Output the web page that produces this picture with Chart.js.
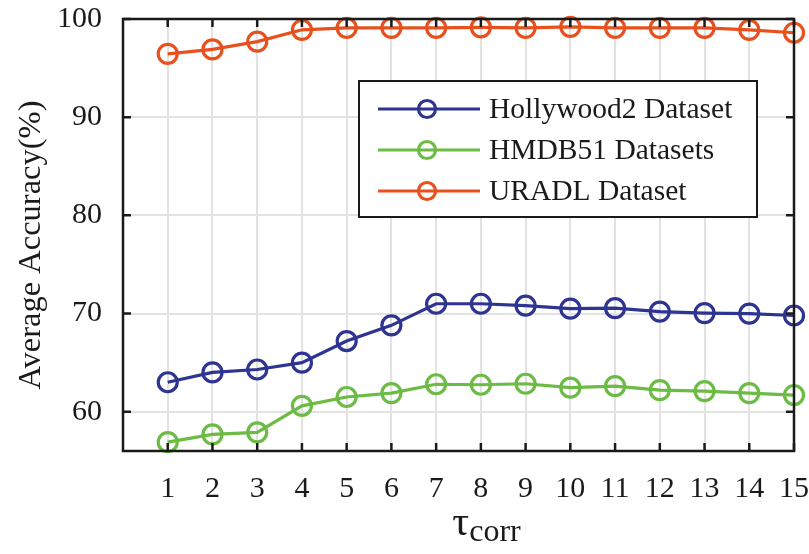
<!DOCTYPE html>
<html>
<head>
<meta charset="utf-8">
<script src="https://cdn.jsdelivr.net/npm/chart.js@4"></script>
<style>
  html, body { margin: 0; padding: 0; background: #ffffff; }
  #wrap { width: 809px; height: 554px; }
</style>
</head>
<body>
<div id="wrap"><canvas id="chart" width="809" height="554"></canvas></div>
<script>
// tau_corr values on the x axis
const tauValues = [1, 2, 3, 4, 5, 6, 7, 8, 9, 10, 11, 12, 13, 14, 15];

// average accuracy (%) per dataset
const hollywood2 = [63.0, 64.0, 64.3, 65.0, 67.2, 68.8, 71.0, 71.0, 70.8, 70.5, 70.55, 70.2, 70.05, 70.0, 69.8];
const hmdb51     = [56.9, 57.7, 57.9, 60.6, 61.5, 61.9, 62.8, 62.75, 62.85, 62.45, 62.6, 62.2, 62.1, 61.9, 61.7];
const uradl      = [96.45, 96.9, 97.7, 98.9, 99.1, 99.1, 99.1, 99.15, 99.1, 99.2, 99.1, 99.1, 99.1, 98.9, 98.6];

const seriesLabels = ['Hollywood2 Dataset', 'HMDB51 Datasets', 'URADL Dataset'];
const seriesColors = ['#2e3492', '#6cbb45', '#e8501e'];

const xTicks = [1, 2, 3, 4, 5, 6, 7, 8, 9, 10, 11, 12, 13, 14, 15];
const yTicks = [60, 70, 80, 90, 100];

const yTitle = 'Average Accuracy(%)';
const xTitleMain = 'τ';
const xTitleSub = 'corr';

const SERIF = '"Liberation Serif", "Times New Roman", serif';

// plot frame inside the 809x554 canvas
const FRAME = { left: 123, top: 19, right: 794, bottom: 451 };

function toPoints(values) {
  return values.map((v, i) => ({ x: tauValues[i], y: v }));
}

const seriesValues = [hollywood2, hmdb51, uradl];

const datasets = seriesValues.map((vals, i) => ({
  label: seriesLabels[i],
  data: toPoints(vals),
  borderColor: seriesColors[i],
  backgroundColor: 'rgba(0,0,0,0)',
  pointBorderColor: seriesColors[i],
  pointBackgroundColor: 'rgba(0,0,0,0)',
  borderWidth: 3.2,
  pointRadius: 9.5,
  pointBorderWidth: 3.2,
  pointHoverRadius: 9.5,
  tension: 0,
  clip: false
}));

// Frame with inward tick marks on all four sides, axis titles and the boxed legend
const decorations = {
  id: 'decorations',
  afterDraw(chart) {
    const { ctx, chartArea: a, scales } = chart;
    const xs = scales.x, ys = scales.y;
    const tickLen = 8;
    ctx.save();
    ctx.strokeStyle = '#1a1a1a';
    ctx.lineWidth = 2.5;
    ctx.lineCap = 'butt';
    ctx.beginPath();
    xTicks.forEach(t => {
      const px = xs.getPixelForValue(t);
      ctx.moveTo(px, a.bottom); ctx.lineTo(px, a.bottom - tickLen);
      ctx.moveTo(px, a.top); ctx.lineTo(px, a.top + tickLen);
    });
    yTicks.forEach(t => {
      const py = ys.getPixelForValue(t);
      ctx.moveTo(a.left, py); ctx.lineTo(a.left + tickLen, py);
      ctx.moveTo(a.right, py); ctx.lineTo(a.right - tickLen, py);
    });
    ctx.stroke();
    ctx.strokeRect(a.left, a.top, a.right - a.left, a.bottom - a.top);

    // y axis title
    ctx.fillStyle = '#1a1a1a';
    ctx.save();
    ctx.translate(31, (a.top + a.bottom) / 2 + 10);
    ctx.rotate(-Math.PI / 2);
    ctx.font = '32.5px ' + SERIF;
    ctx.textAlign = 'center';
    ctx.textBaseline = 'middle';
    ctx.fillText(yTitle, 0, 0);
    ctx.restore();

    // x axis title with subscript
    ctx.textBaseline = 'alphabetic';
    ctx.textAlign = 'left';
    ctx.font = '42px ' + SERIF;
    const mainW = ctx.measureText(xTitleMain).width;
    ctx.font = '32px ' + SERIF;
    const subW = ctx.measureText(xTitleSub).width;
    const startX = (a.left + a.right) / 2 + 28 - (mainW + subW) / 2;
    ctx.font = '42px ' + SERIF;
    ctx.fillText(xTitleMain, startX, 535);
    ctx.font = '32px ' + SERIF;
    ctx.fillText(xTitleSub, startX + mainW, 541);

    // legend box
    const box = { x: 359, y: 81, w: 398, h: 136 };
    ctx.fillStyle = '#ffffff';
    ctx.fillRect(box.x, box.y, box.w, box.h);
    ctx.strokeStyle = '#1a1a1a';
    ctx.lineWidth = 2;
    ctx.strokeRect(box.x, box.y, box.w, box.h);
    const rows = [109, 150, 191];
    chart.data.datasets.forEach((ds, i) => {
      const y = rows[i];
      ctx.strokeStyle = ds.borderColor;
      ctx.lineWidth = 3.2;
      ctx.beginPath();
      ctx.moveTo(378, y); ctx.lineTo(480, y);
      ctx.stroke();
      ctx.beginPath();
      ctx.arc(427, y, 8.5, 0, Math.PI * 2);
      ctx.stroke();
      ctx.fillStyle = '#1a1a1a';
      ctx.font = '29.5px ' + SERIF;
      ctx.textBaseline = 'middle';
      ctx.fillText(ds.label, 489, y + 1);
    });
    ctx.restore();
  }
};

const chart = new Chart(document.getElementById('chart'), {
  type: 'line',
  data: { datasets },
  options: {
    responsive: false,
    devicePixelRatio: 1,
    animation: false,
    events: [],
    layout: { padding: { left: 0, top: FRAME.top, right: 809 - FRAME.right, bottom: 0 } },
    plugins: {
      legend: { display: false },
      tooltip: { enabled: false },
      title: { display: false }
    },
    scales: {
      x: {
        type: 'linear',
        min: 0,
        max: 15,
        afterBuildTicks: s => { s.ticks = xTicks.map(v => ({ value: v })); },
        afterFit: s => {
          s.height = 554 - FRAME.bottom;
          s.paddingLeft = 0; s.paddingRight = 0;
        },
        grid: { color: '#e2e2e2', lineWidth: 2, drawTicks: false },
        border: { display: false },
        ticks: {
          padding: 20,
          color: '#1a1a1a',
          font: { family: SERIF, size: 30 },
          maxRotation: 0,
          autoSkip: false
        }
      },
      y: {
        type: 'linear',
        min: 56,
        max: 100,
        afterBuildTicks: s => { s.ticks = yTicks.map(v => ({ value: v })); },
        afterFit: s => {
          s.width = FRAME.left;
          s.paddingTop = 0; s.paddingBottom = 0;
        },
        grid: { color: '#e2e2e2', lineWidth: 2, drawTicks: false },
        border: { display: false },
        ticks: {
          padding: 21,
          color: '#1a1a1a',
          font: { family: SERIF, size: 30 }
        }
      }
    }
  },
  plugins: [decorations]
});

// nudge the layout padding so the plot frame lands exactly on FRAME
const ca = chart.chartArea;
const pad = chart.options.layout.padding;
pad.top += FRAME.top - ca.top;
pad.right += ca.right - FRAME.right;
pad.left += FRAME.left - ca.left;
pad.bottom += ca.bottom - FRAME.bottom;
chart.update();
</script>
</body>
</html>
